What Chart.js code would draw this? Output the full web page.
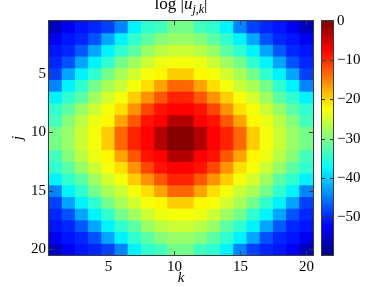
<!DOCTYPE html>
<html>
<head>
<meta charset="utf-8">
<script src="https://cdn.jsdelivr.net/npm/chart.js@4.4.0/dist/chart.umd.min.js"></script>
<style>
  html, body { margin: 0; padding: 0; background: #fff; overflow: hidden; }
  #wrap { position: relative; width: 382px; height: 287px; }
  #heat { position: absolute; left: 0; top: 0; }
  #cbar { position: absolute; left: 300px; top: 0; }
  #title {
    position: absolute; left: 121px; width: 120px; top: -6px;
    text-align: center; white-space: nowrap;
    font: 17px "Liberation Serif", serif; line-height: 19px; color: #000;
  }
  #title sub { font-size: 12px; line-height: 0; }
</style>
</head>
<body>
<div id="wrap">
  <canvas id="heat" width="320" height="287"></canvas>
  <canvas id="cbar" width="82" height="287"></canvas>
  <div id="title">log |<i>u</i><sub><i>j,k</i></sub>|</div>
</div>
<script>
// column index k and row index j
const kValues = [1, 2, 3, 4, 5, 6, 7, 8, 9, 10, 11, 12, 13, 14, 15, 16, 17, 18, 19, 20];
const jValues = [1, 2, 3, 4, 5, 6, 7, 8, 9, 10, 11, 12, 13, 14, 15, 16, 17, 18, 19, 20];

// log|u_{j,k}|, one row per j
const logU = [
  [-56, -53, -51, -50, -48.5, -44.5, -38, -34.5, -33.5, -30.5, -30.5, -33.5, -34.5, -38, -44.5, -48.5, -50, -51, -53, -56],
  [-53, -51, -50, -47.5, -42.5, -38, -34.5, -32, -29.5, -28.5, -28.5, -29.5, -32, -34.5, -38, -42.5, -47.5, -50, -51, -53],
  [-51, -50, -47, -42.5, -38, -34.5, -32, -28.5, -26.5, -25.5, -25.5, -26.5, -28.5, -32, -34.5, -38, -42.5, -47, -50, -51],
  [-50, -47.5, -42.5, -38, -34.5, -30.5, -28, -25.5, -23.5, -23, -23, -23.5, -25.5, -28, -30.5, -34.5, -38, -42.5, -47.5, -50],
  [-48.5, -42.5, -38, -34.5, -30.5, -27.5, -25, -23, -22, -19.5, -19.5, -22, -23, -25, -27.5, -30.5, -34.5, -38, -42.5, -48.5],
  [-44.5, -38, -34.5, -30.5, -27.5, -25.5, -23, -20.5, -17, -13.5, -13.5, -17, -20.5, -23, -25.5, -27.5, -30.5, -34.5, -38, -44.5],
  [-38, -34.5, -32, -28, -25, -23, -19.5, -16, -12.5, -9.5, -9.5, -12.5, -16, -19.5, -23, -25, -28, -32, -34.5, -38],
  [-34.5, -32, -28.5, -25.5, -23, -20.5, -16, -11.5, -8.5, -7.5, -7.5, -8.5, -11.5, -16, -20.5, -23, -25.5, -28.5, -32, -34.5],
  [-33.5, -29.5, -26.5, -23.5, -22, -17, -12.5, -8.5, -7.5, -3, -3, -7.5, -8.5, -12.5, -17, -22, -23.5, -26.5, -29.5, -33.5],
  [-30.5, -28.5, -25.5, -23, -19.5, -13.5, -9.5, -7.5, -3, -0.3, -0.3, -3, -7.5, -9.5, -13.5, -19.5, -23, -25.5, -28.5, -30.5],
  [-30.5, -28.5, -25.5, -23, -19.5, -13.5, -9.5, -7.5, -3, -0.3, -0.3, -3, -7.5, -9.5, -13.5, -19.5, -23, -25.5, -28.5, -30.5],
  [-33.5, -29.5, -26.5, -23.5, -22, -17, -12.5, -8.5, -7.5, -3, -3, -7.5, -8.5, -12.5, -17, -22, -23.5, -26.5, -29.5, -33.5],
  [-34.5, -32, -28.5, -25.5, -23, -20.5, -16, -11.5, -8.5, -7.5, -7.5, -8.5, -11.5, -16, -20.5, -23, -25.5, -28.5, -32, -34.5],
  [-38, -34.5, -32, -28, -25, -23, -19.5, -16, -12.5, -9.5, -9.5, -12.5, -16, -19.5, -23, -25, -28, -32, -34.5, -38],
  [-44.5, -38, -34.5, -30.5, -27.5, -25.5, -23, -20.5, -17, -13.5, -13.5, -17, -20.5, -23, -25.5, -27.5, -30.5, -34.5, -38, -44.5],
  [-48.5, -42.5, -38, -34.5, -30.5, -27.5, -25, -23, -22, -19.5, -19.5, -22, -23, -25, -27.5, -30.5, -34.5, -38, -42.5, -48.5],
  [-50, -47.5, -42.5, -38, -34.5, -30.5, -28, -25.5, -23.5, -23, -23, -23.5, -25.5, -28, -30.5, -34.5, -38, -42.5, -47.5, -50],
  [-51, -50, -47, -42.5, -38, -34.5, -32, -28.5, -26.5, -25.5, -25.5, -26.5, -28.5, -32, -34.5, -38, -42.5, -47, -50, -51],
  [-53, -51, -50, -47.5, -42.5, -38, -34.5, -32, -29.5, -28.5, -28.5, -29.5, -32, -34.5, -38, -42.5, -47.5, -50, -51, -53],
  [-56, -53, -51, -50, -48.5, -44.5, -38, -34.5, -33.5, -30.5, -30.5, -33.5, -34.5, -38, -44.5, -48.5, -50, -51, -53, -56]
];

const axisTicks = [5, 10, 15, 20];
const cbarTicks = [0, -10, -20, -30, -40, -50];
const cbarMin = -59.7;
const cbarMax = 0;

const serif = "'Liberation Serif', 'Times New Roman', serif";
Chart.defaults.font.family = serif;
Chart.defaults.font.size = 15;
Chart.defaults.color = "#000";

// jet colormap
function jet(v) {
  const t = (v - cbarMin) / (cbarMax - cbarMin);
  const c = (x) => Math.round(255 * Math.max(0, Math.min(1, x)));
  return `rgb(${c(1.5 - Math.abs(4 * t - 3))},${c(1.5 - Math.abs(4 * t - 2))},${c(1.5 - Math.abs(4 * t - 1))})`;
}

// box around the plot with inward ticks (matlab style)
const frameTicks = {
  id: "frameTicks",
  afterDraw(chart, args, opts) {
    const { ctx, chartArea: a } = chart;
    const len = 4;
    ctx.save();
    ctx.strokeStyle = "#3c3c3c";
    ctx.lineWidth = 1;
    ctx.strokeRect(a.left - 0.5, a.top - 0.5, a.right - a.left + 1, a.bottom - a.top + 1);
    ctx.beginPath();
    (opts.x || []).forEach((v) => {
      const px = Math.round(chart.scales.x.getPixelForValue(v)) + 0.5;
      ctx.moveTo(px, a.bottom); ctx.lineTo(px, a.bottom - len);
      ctx.moveTo(px, a.top); ctx.lineTo(px, a.top + len);
    });
    (opts.y || []).forEach((v) => {
      const py = Math.round(chart.scales.y.getPixelForValue(v)) + 0.5;
      ctx.moveTo(a.left, py); ctx.lineTo(a.left + len, py);
      ctx.moveTo(a.right, py); ctx.lineTo(a.right - len, py);
    });
    ctx.stroke();
    ctx.restore();
  },
};

const setTicks = (list) => (scale) => {
  scale.ticks = list.map((v) => ({ value: v }));
};

// one floating-bar dataset per row j
const heatDatasets = jValues.map((j, r) => ({
  data: kValues.map((k) => ({ x: k, y: [j - 0.5, j + 0.5] })),
  backgroundColor: logU[r].map(jet),
  borderWidth: 0,
  inflateAmount: 0.5,
  grouped: false,
  barPercentage: 1,
  categoryPercentage: 1,
}));

new Chart(document.getElementById("heat"), {
  type: "bar",
  data: { datasets: heatDatasets },
  options: {
    responsive: false,
    animation: false,
    events: [],
    layout: { padding: { top: 21, right: 7, bottom: 0, left: 0 } },
    plugins: {
      legend: { display: false },
      tooltip: { enabled: false },
      frameTicks: { x: axisTicks, y: axisTicks },
    },
    scales: {
      x: {
        type: "linear",
        min: 0.5,
        max: 20.5,
        offset: false,
        grid: { display: false, drawTicks: false },
        border: { display: false },
        ticks: { padding: 3, autoSkip: false, maxRotation: 0 },
        afterBuildTicks: setTicks(axisTicks),
        afterFit: (s) => { s.height = 32; },
        title: {
          display: true,
          text: "k",
          font: { style: "italic", size: 15 },
          padding: { top: 0, bottom: 0 },
        },
      },
      y: {
        type: "linear",
        reverse: true,
        min: 0.5,
        max: 20.5,
        offset: false,
        grid: { display: false, drawTicks: false },
        border: { display: false },
        ticks: { padding: 3, autoSkip: false },
        afterBuildTicks: setTicks(axisTicks),
        afterFit: (s) => { s.width = 49; },
        title: {
          display: true,
          text: "j",
          font: { style: "italic", size: 15 },
          padding: { top: 9, bottom: 0 },
        },
      },
    },
  },
  plugins: [frameTicks],
});

// colorbar: a single floating bar filled with the jet gradient
function cbarFill(context) {
  const chart = context.chart;
  if (!chart.chartArea) return null;
  const ys = chart.scales.y;
  const y0 = ys.getPixelForValue(cbarMin);
  const y1 = ys.getPixelForValue(cbarMax);
  const g = chart.ctx.createLinearGradient(0, y0, 0, y1);
  [0, 0.125, 0.375, 0.625, 0.875, 1].forEach((t) => {
    g.addColorStop(t, jet(cbarMin + t * (cbarMax - cbarMin)));
  });
  return g;
}

const cbarFrame = {
  id: "cbarFrame",
  afterDraw(chart) {
    const { ctx, chartArea: a } = chart;
    const len = 3;
    ctx.save();
    ctx.strokeStyle = "#3c3c3c";
    ctx.lineWidth = 1;
    ctx.strokeRect(a.left - 0.5, a.top - 0.5, a.right - a.left + 1, a.bottom - a.top + 1);
    ctx.beginPath();
    cbarTicks.forEach((v) => {
      const py = Math.round(chart.scales.y.getPixelForValue(v)) + 0.5;
      ctx.moveTo(a.left, py); ctx.lineTo(a.left + len, py);
      ctx.moveTo(a.right, py); ctx.lineTo(a.right - len, py);
    });
    ctx.stroke();
    ctx.restore();
  },
};

new Chart(document.getElementById("cbar"), {
  type: "bar",
  data: {
    labels: [""],
    datasets: [{
      data: [[cbarMin, cbarMax]],
      backgroundColor: cbarFill,
      borderWidth: 0,
      barPercentage: 1,
      categoryPercentage: 1,
    }],
  },
  options: {
    responsive: false,
    animation: false,
    events: [],
    layout: { padding: { top: 21, right: 0, bottom: 32, left: 22 } },
    plugins: { legend: { display: false }, tooltip: { enabled: false } },
    scales: {
      x: { display: false },
      y: {
        position: "right",
        min: cbarMin,
        max: cbarMax,
        grid: { display: false, drawTicks: false },
        border: { display: false },
        ticks: {
          padding: 4,
          autoSkip: false,
          callback: (v) => (v < 0 ? "\u2212" + Math.abs(v) : String(v)),
        },
        afterBuildTicks: setTicks(cbarTicks),
        afterFit: (s) => { s.width = 49; },
      },
    },
  },
  plugins: [cbarFrame],
});
</script>
</body>
</html>
